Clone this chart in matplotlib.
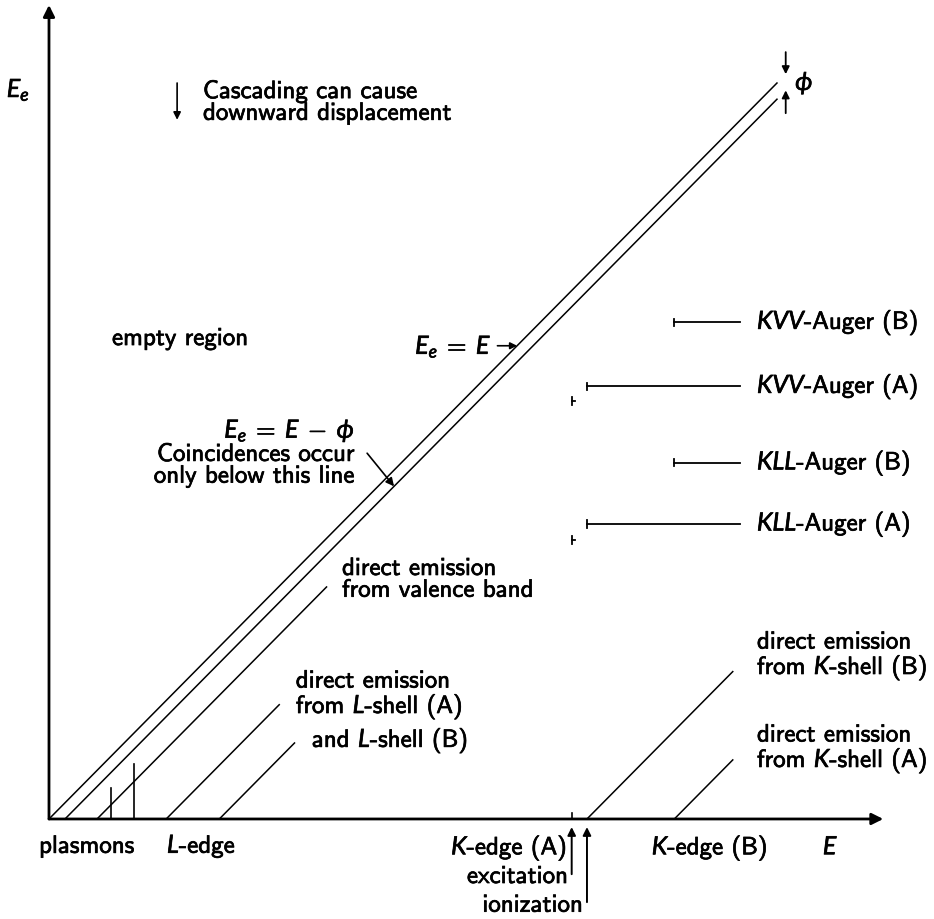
import matplotlib
matplotlib.use("Agg")
import matplotlib.pyplot as plt
import matplotlib.patheffects as pe

plt.rcParams['font.family'] = ['cmss10', 'DejaVu Sans']
plt.rcParams['mathtext.fontset'] = 'custom'
plt.rcParams['mathtext.rm'] = 'cmss10'
plt.rcParams['mathtext.it'] = 'Lato:italic'
plt.rcParams['axes.unicode_minus'] = False

# Energies (arbitrary units): E along x, E_e along y
phi = 2.2
e_top = 100.0
valence = (6.6, 38.2)          # onset, end of valence band emission line
l_shell_a = (16.1, 31.7)
l_shell_b = (23.4, 33.8)
k_exc_a = 71.8                 # K-edge (A), excitation
k_ion_a = 73.9                 # K-edge (A), ionization
k_edge_b = 85.9
k_line_end = 94.0
plasmons = [8.5, 11.7]
plasmon_heights = [4.2, 7.5]

auger_end = 94.9
auger_labels = [r'$KVV$-Auger (B)', r'$KVV$-Auger (A)', r'$KLL$-Auger (B)', r'$KLL$-Auger (A)']
auger_levels = [67.5, 58.8, 48.4, 40.1]
auger_starts = [k_edge_b, k_ion_a, k_edge_b, k_ion_a]
auger_exc_levels = [None, 56.8, None, 37.9]

x_end, y_end = 114.6, 110.6
FS = 18
LS = 0.93

fig = plt.figure(figsize=(9.34, 9.19), dpi=100)
ax = fig.add_axes([0, 0, 1, 1])
ax.set_xlim(-6.73, 121.57)
ax.set_ylim(-13.59, 111.28)
ax.axis('off')

bold = [pe.withStroke(linewidth=0.5, foreground='k')]


def txt(x, y, s, **kw):
    # y is the baseline of the last line
    kw.setdefault('va', 'baseline')
    kw.setdefault('ha', 'left')
    ax.text(x, y, s, fontsize=FS, linespacing=LS, path_effects=bold, **kw)


def arrow(tail, tip, lw=1.3, ms=14):
    ax.annotate('', xy=tip, xytext=tail,
                arrowprops=dict(arrowstyle='-|>', lw=lw, color='k',
                                shrinkA=0, shrinkB=0, mutation_scale=ms))


def diag(e0, e1, lw=1.1):
    ax.plot([e0, e1], [0, e1 - e0], color='k', lw=lw, solid_capstyle='butt')


# axes with arrow heads
arrow((0, 0), (x_end, 0), lw=2.0, ms=17)
arrow((0, 0), (0, y_end), lw=2.0, ms=17)

# E_e = E and E_e = E - phi
ax.plot([0, e_top], [0, e_top], color='k', lw=1.1)
ax.plot([phi, e_top], [0, e_top - phi], color='k', lw=1.1)

# direct emission lines
diag(*valence)
diag(*l_shell_a)
diag(*l_shell_b)
diag(k_ion_a, k_line_end)
diag(k_edge_b, k_line_end)

# plasmon losses
for p, h in zip(plasmons, plasmon_heights):
    ax.plot([p, p], [0, h], color='k', lw=1.2)

# K-edge (A) tick and threshold arrows
ax.plot([k_exc_a, k_exc_a], [0, 0.8], color='k', lw=1.2)
arrow((k_exc_a, -7.5), (k_exc_a, -1.1), lw=1.4, ms=12)
arrow((k_ion_a, -11.3), (k_ion_a, -1.1), lw=1.4, ms=12)

# Auger lines
for lab, lev, st, ex in zip(auger_labels, auger_levels, auger_starts, auger_exc_levels):
    ax.plot([st, auger_end], [lev, lev], color='k', lw=1.3)
    ax.plot([st, st], [lev - 0.5, lev + 0.5], color='k', lw=1.3)
    txt(97.25, lev - 0.9, lab)
    if ex is not None:
        ax.plot([k_exc_a, k_exc_a + 0.5], [ex, ex], color='k', lw=1.3)
        ax.plot([k_exc_a, k_exc_a], [ex - 0.5, ex + 0.5], color='k', lw=1.3)

# work function marker
e_phi = 101.2
arrow((e_phi, 104.2), (e_phi, e_phi), lw=1.3, ms=11)
arrow((e_phi, 95.9), (e_phi, e_phi - phi), lw=1.3, ms=11)
txt(102.5, 100.0, r'$\phi$', va='center')

# cascading note
arrow((17.6, 100.0), (17.6, 95.0), lw=1.2, ms=11)
txt(21.15, 95.0, 'Cascading can cause\ndownward displacement')

txt(-5.8, 98.1, r'$E_e$')
txt(8.65, 64.4, 'empty region')

txt(50.3, 63.2, r'$E_e\;=\;E$')
arrow((61.6, 64.3), (64.3, 64.3), lw=1.2, ms=10)

txt(42.0, 51.8, r'$E_e\;=\;E\;-\;\phi$', ha='right')
txt(42.0, 45.7, 'Coincidences occur\nonly below this line', ha='right', multialignment='right')
arrow((43.7, 49.7), (47.4, 45.2), lw=1.2, ms=12)

txt(40.25, 30.2, 'direct emission\nfrom valence band')
txt(33.9, 14.4, 'direct emission\n' + r'from $L$-shell (A)')
txt(36.1, 9.8, r'and $L$-shell (B)')

txt(97.25, 19.7, 'direct emission\n' + r'from $K$-shell (B)')
txt(97.25, 7.07, 'direct emission\n' + r'from $K$-shell (A)')

# labels under the E axis
txt(-1.37, -4.6, 'plasmons')
txt(16.2, -4.6, r'$L$-edge')
txt(71.15, -4.8, r'$K$-edge (A)', ha='right')
txt(71.3, -8.7, 'excitation', ha='right')
txt(73.35, -12.6, 'ionization', ha='right')
txt(82.8, -4.8, r'$K$-edge (B)')
txt(106.3, -4.8, r'$E$')

fig.savefig('out.png', dpi=100)
